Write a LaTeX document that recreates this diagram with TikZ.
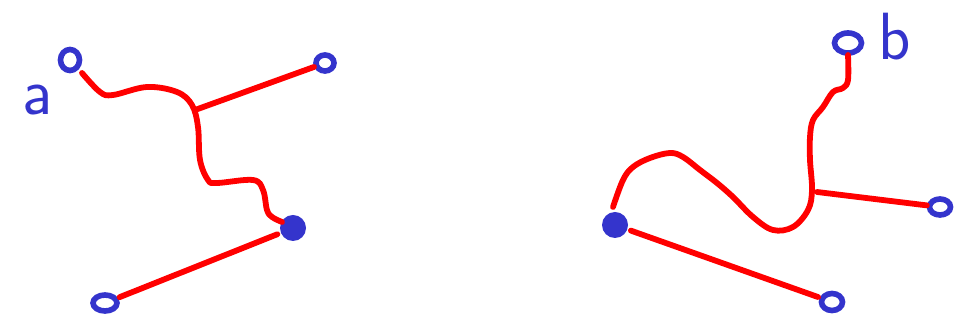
\documentclass[tikz,border=0pt]{standalone}
\usepackage{tikz}
\usetikzlibrary{arrows.meta,positioning,calc,shapes.geometric}
\definecolor{inkblue}{RGB}{52,52,204}
\definecolor{inkred}{RGB}{255,0,0}
\begin{document}
\begin{tikzpicture}[>=Stealth,
  wire/.style={inkred,line width=3.3pt,line cap=round,line join=round},
  hole/.style={ellipse,draw=inkblue,line width=3.2pt,inner sep=0pt},
  blob/.style={circle,fill=inkblue,inner sep=0pt,minimum size=0.52cm},
  tag/.style={inkblue,font=\sffamily\fontsize{38}{38}\selectfont}]
\useasboundingbox (0,0) rectangle (19.14,6.56);
\node[hole,minimum width=0.38cm,minimum height=0.42cm] (a0) at (1.40,5.36) {};
\node[tag] (ta) at (0.76,4.56) {a};
\node[hole,minimum width=0.36cm,minimum height=0.32cm] (ra) at (6.50,5.30) {};
\node[blob] (da) at (5.86,2.00) {};
\node[hole,minimum width=0.48cm,minimum height=0.32cm] (la) at (2.10,0.50) {};
\coordinate (ja) at (3.90,4.36);
\draw[wire] plot[smooth,tension=0.6] coordinates {(1.64,5.10) (2.00,4.72) (2.26,4.66) (2.94,4.82)
  (3.54,4.72) (3.84,4.46) (3.96,4.02) (4.00,3.36) (4.16,2.96) (4.34,2.90) (5.06,2.96)
  (5.26,2.76) (5.34,2.36) (5.44,2.22) (5.64,2.12)};
\draw[wire] (ja) -- (ra);
\draw[wire,shorten <=2pt,shorten >=1pt] (da) -- (la);
\node[hole,minimum width=0.54cm,minimum height=0.40cm] (b0) at (16.96,5.70) {};
\node[tag] (tb) at (17.90,5.82) {b};
\node[hole,minimum width=0.42cm,minimum height=0.32cm] (rb) at (18.80,2.42) {};
\node[blob] (db) at (12.30,2.06) {};
\node[hole,minimum width=0.42cm,minimum height=0.34cm] (lb) at (16.64,0.52) {};
\coordinate (jb) at (16.34,2.72);
\draw[wire] plot[smooth,tension=0.6] coordinates {(16.96,5.46) (16.96,4.96) (16.86,4.80) (16.66,4.72)
  (16.46,4.42) (16.26,4.16) (16.20,3.82) (16.20,3.36) (16.24,2.76) (16.16,2.36) (15.86,2.02)
  (15.46,1.96) (15.06,2.22) (14.66,2.62) (14.34,2.90) (14.00,3.16) (13.66,3.42) (13.40,3.50)
  (13.00,3.40) (12.66,3.22) (12.46,2.96) (12.26,2.42)};
\draw[wire] (jb) -- (rb);
\draw[wire,shorten <=2pt,shorten >=1pt] (db) -- (lb);
\end{tikzpicture}
\end{document}
